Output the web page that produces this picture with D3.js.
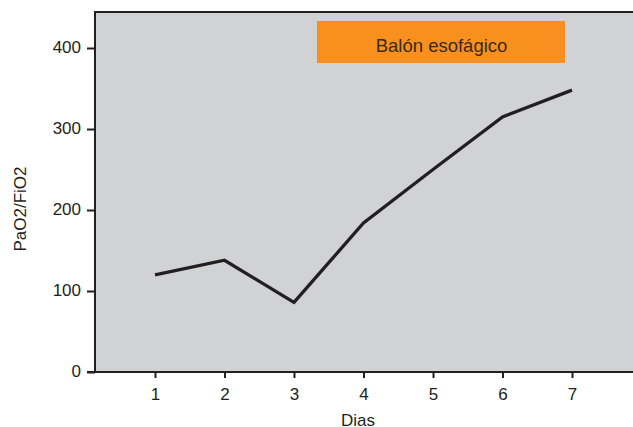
<!DOCTYPE html>
<html>
<head>
<meta charset="utf-8">
<script src="https://cdn.jsdelivr.net/npm/d3@7"></script>
<style>
html,body{margin:0;padding:0;background:#fff;}
svg{display:block;}
text{font-family:"Liberation Sans",Arial,sans-serif;fill:#231f20;}
</style>
</head>
<body>
<svg id="chart" width="633" height="427"></svg>
<script>
const days = [1, 2, 3, 4, 5, 6, 7];
const ratioValues = [120, 138, 86, 184, 250, 315, 348];
const yTicks = [0, 100, 200, 300, 400];
const xLabel = "Dias";
const yLabel = "PaO2/FiO2";
const legendLabel = "Balón esofágico";

(function () {
const svg = d3.select("#chart");
const pLeft = 95, pTop = 12, pBottom = 372, pRight = 640;
const FONT = "Liberation Sans, Arial, sans-serif";

const x = d3.scaleLinear().domain([1, 7]).range([155, 572]);
const y = d3.scaleLinear().domain([0, 400]).range([pBottom, 48]);

// plot background
svg.append("rect")
  .attr("x", pLeft).attr("y", pTop)
  .attr("width", pRight - pLeft).attr("height", pBottom - pTop)
  .attr("fill", "#d1d2d4")
  .attr("stroke", "#231f20").attr("stroke-width", 2);

// legend box
svg.append("rect")
  .attr("x", 317).attr("y", 21).attr("width", 248).attr("height", 42)
  .attr("fill", "#f7901e");
svg.append("text")
  .attr("x", 441.5).attr("y", 51.7)
  .attr("text-anchor", "middle")
  .attr("font-size", 18.5)
  .style("fill", "#3b2a1c")
  .text(legendLabel);

// y axis
const yAxis = d3.axisLeft(y).tickValues(yTicks).tickFormat(d3.format("d")).tickSize(8).tickPadding(6);
const gy = svg.append("g").attr("transform", `translate(${pLeft},0)`).call(yAxis);
gy.select(".domain").remove();
gy.selectAll(".tick line").attr("stroke", "#231f20").attr("stroke-width", 2);
gy.selectAll(".tick text").attr("font-size", 17).attr("dy", "0.28em").attr("font-family", FONT).style("fill", "#231f20");

// x axis
const xAxis = d3.axisBottom(x).tickValues(days).tickFormat(d3.format("d")).tickSize(6).tickPadding(10);
const gx = svg.append("g").attr("transform", `translate(0,${pBottom})`).call(xAxis);
gx.select(".domain").remove();
gx.selectAll(".tick line").attr("stroke", "#231f20").attr("stroke-width", 2);
gx.selectAll(".tick text").attr("font-size", 17).attr("font-family", FONT).style("fill", "#231f20");

// bottom axis line extended slightly left
svg.append("line").attr("x1", pLeft - 8).attr("x2", pRight)
  .attr("y1", pBottom).attr("y2", pBottom)
  .attr("stroke", "#231f20").attr("stroke-width", 2);

// axis titles
svg.append("text")
  .attr("x", 358).attr("y", 425.5)
  .attr("text-anchor", "middle").attr("font-size", 17)
  .text(xLabel);
svg.append("text")
  .attr("transform", "translate(26,209) rotate(-90)")
  .attr("text-anchor", "middle").attr("font-size", 17)
  .text(yLabel);

// line
const line = d3.line().x((d, i) => x(days[i])).y(d => y(d));
svg.append("path")
  .datum(ratioValues)
  .attr("d", line)
  .attr("fill", "none")
  .attr("stroke", "#231f20")
  .attr("stroke-width", 3.3)
  .attr("stroke-linejoin", "miter");
})();
</script>
</body>
</html>
